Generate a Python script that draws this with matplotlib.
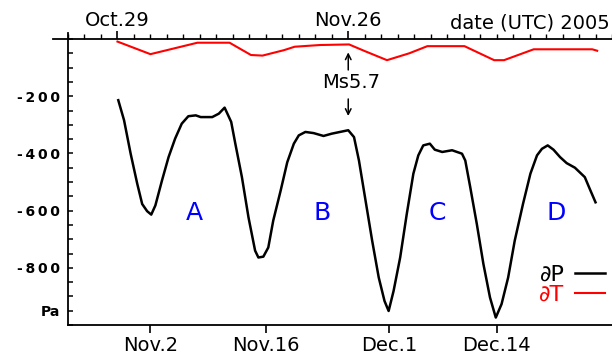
import numpy as np
import matplotlib
matplotlib.use("Agg")
import matplotlib.pyplot as plt
from matplotlib.ticker import MultipleLocator

# days counted from Oct.29 2005
p_days = [0.1, 0.8, 1.6, 2.4, 3.0, 3.6, 4.1, 4.6, 5.4, 6.2, 7.0, 7.8, 8.6, 9.5,
          10.1, 11.5, 12.3, 13.0, 13.8, 14.3, 15.1, 15.9, 16.7, 17.1, 17.7, 18.3,
          18.9, 19.8, 20.6, 21.4, 22.0, 22.8, 23.8, 25.0, 26.0, 27.0, 28.0, 28.7,
          29.3, 30.1, 30.9, 31.7, 32.4, 32.9, 33.5, 34.3, 35.1, 35.9, 36.5, 37.1,
          37.9, 38.5, 39.4, 40.6, 41.8, 42.2, 42.8, 43.6, 44.4, 45.2, 45.9, 46.6,
          47.4, 48.2, 49.2, 50.1, 50.9, 51.5, 52.2, 52.9, 53.7, 54.5, 55.5, 56.7,
          57.3, 58.0]
p_vals = [-214, -284, -401, -506, -577, -602, -614, -582, -495, -413, -348, -296,
          -270, -267, -273, -273, -261, -240, -290, -366, -483, -624, -740, -764,
          -761, -729, -635, -530, -431, -366, -337, -325, -329, -339, -331, -325,
          -319, -343, -425, -565, -705, -834, -916, -951, -881, -764, -612, -471,
          -407, -372, -366, -387, -395, -389, -401, -425, -518, -647, -787, -904,
          -974, -927, -834, -705, -577, -471, -407, -384, -372, -387, -413, -434,
          -450, -483, -524, -571]

t_days = [0.0, 4.0, 9.7, 13.6, 16.2, 17.6, 20.2, 21.5, 24.6, 28.1, 29.9, 32.7,
          35.4, 37.6, 42.1, 45.7, 46.9, 50.5, 57.6, 58.2]
t_vals = [-9, -53, -13, -13, -56, -58, -39, -27, -21, -19, -41, -74, -50, -25,
          -25, -74, -74, -36, -36, -41]

bottom_ticks = [4, 18, 33, 46]
bottom_labels = ['Nov.2', 'Nov.16', 'Dec.1', 'Dec.14']
top_ticks = [0, 28]
top_labels = ['Oct.29', 'Nov.26']
y_ticks = [-200, -400, -600, -800, -950]
y_labels = ['-\u20092\u20090\u20090', '-\u20094\u20090\u20090',
            '-\u20096\u20090\u20090', '-\u20098\u20090\u20090', 'Pa']

seg_names = ['A', 'B', 'C', 'D']
seg_days = [9.3, 24.8, 38.8, 53.2]
seg_level = -608

quake_day = 28
quake_name = 'Ms5.7'

fig = plt.figure(figsize=(6.12, 3.55), dpi=100)
ax = fig.add_axes([68/612, 30/355, 544/612, 286/355])

ax.plot(p_days, p_vals, color='black', lw=1.8, label='∂P')
ax.plot(t_days, t_vals, color='red', lw=1.5, label='∂T')

ax.set_xlim(-6, 60)
ax.set_ylim(-1000, 0)

ax.spines['right'].set_visible(False)
for sp in ['top', 'left', 'bottom']:
    ax.spines[sp].set_linewidth(1.3)
ax.spines['top'].set_bounds(-7.8, 60)
ax.spines['left'].set_bounds(-1000, 20)

# bottom dates
ax.set_xticks(bottom_ticks)
ax.set_xticklabels(bottom_labels, fontsize=14)
ax.tick_params(axis='x', direction='out', length=6, width=1.2, pad=2)

# left axis
ax.set_yticks(y_ticks)
ax.set_yticklabels(y_labels, fontsize=10, fontweight='bold')
ax.yaxis.set_minor_locator(MultipleLocator(50))
ax.tick_params(axis='y', which='both', direction='in', length=3.5, width=1.1, pad=6)

# top dates
sec = ax.secondary_xaxis('top')
sec.set_xticks(top_ticks)
sec.set_xticklabels(top_labels, fontsize=14)
sec.xaxis.set_minor_locator(MultipleLocator(2))
sec.tick_params(which='major', direction='out', length=6, width=1.2, pad=0.5)
sec.tick_params(which='minor', direction='out', length=3.5, width=1.0)
sec.spines['top'].set_visible(False)

ax.text(0.995, 1.038, 'date (UTC) 2005', transform=ax.transAxes,
        ha='right', va='baseline', fontsize=14)

for name, d in zip(seg_names, seg_days):
    ax.text(d, seg_level, name, color='blue', fontsize=18, ha='center', va='center')

ax.annotate('', xy=(quake_day, -37), xytext=(quake_day, -118),
            arrowprops=dict(arrowstyle='->', lw=1.1, color='black'))
ax.annotate('', xy=(quake_day, -279), xytext=(quake_day, -200),
            arrowprops=dict(arrowstyle='->', lw=1.1, color='black'))
ax.text(quake_day + 0.4, -153, quake_name, ha='center', va='center', fontsize=14)

leg = ax.legend(loc='lower right', bbox_to_anchor=(0.987, 0.072), frameon=False,
                markerfirst=False, fontsize=16, handlelength=1.36, handletextpad=0.45,
                labelspacing=0.0, borderpad=0, borderaxespad=0)
for txt, line in zip(leg.get_texts(), leg.get_lines()):
    txt.set_color(line.get_color())

fig.savefig('out.png', dpi=100)
